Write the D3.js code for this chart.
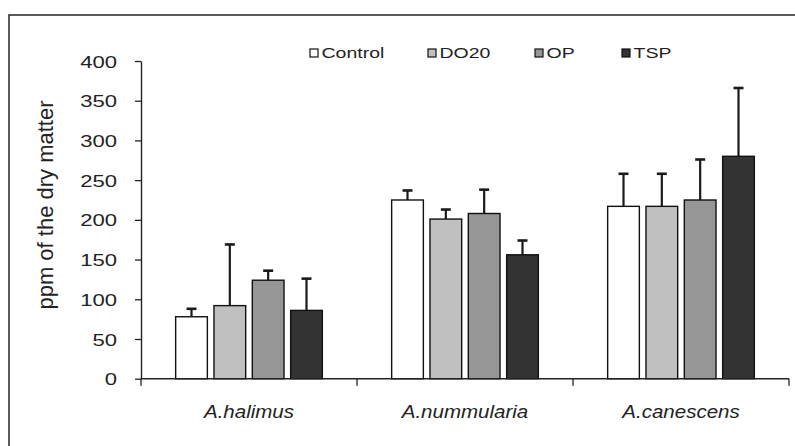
<!DOCTYPE html>
<html>
<head>
<meta charset="utf-8">
<script src="https://cdn.jsdelivr.net/npm/d3@7"></script>
<style>
  body { margin: 0; background: #fff; }
  svg { display: block; font-family: "Liberation Sans", Arial, sans-serif; }
</style>
</head>
<body>
<svg id="chart"></svg>
<script>
// data
const categories = ["A.halimus", "A.nummularia", "A.canescens"];
const series = ["Control", "DO20", "OP", "TSP"];
const seriesColors = ["#ffffff", "#c0c0c0", "#969696", "#333333"];
const means = [
  [78, 92, 124, 86],     // A.halimus
  [225, 201, 208, 156],  // A.nummularia
  [217, 217, 225, 280]   // A.canescens
];
const errors = [
  [10, 77, 12, 40],
  [12, 12, 30, 18],
  [41, 41, 51, 86]
];
const yTicks = [0, 50, 100, 150, 200, 250, 300, 350, 400];

const W = 795, H = 446;
const svg = d3.select("#chart").attr("width", W).attr("height", H);

// outer frame (runs off the right and bottom edges)
svg.append("rect")
  .attr("x", 9).attr("y", 15)
  .attr("width", W).attr("height", H)
  .attr("fill", "none")
  .attr("stroke", "#333")
  .attr("stroke-width", 1.6);

const plotL = 141, plotR = 789, plotT = 61, plotB = 378.7;

const x0 = d3.scaleBand().domain(categories).range([plotL, plotR]);
const x1 = d3.scaleBand().domain(series).range([0, x0.bandwidth()])
  .paddingInner(0.173).paddingOuter(0.904);
const y = d3.scaleLinear().domain([0, 400]).range([plotB, plotT]);
const color = d3.scaleOrdinal().domain(series).range(seriesColors);

// rows for the bars
const rows = [];
categories.forEach((c, i) => {
  series.forEach((s, j) => {
    rows.push({cat: c, ser: s, v: means[i][j], e: errors[i][j]});
  });
});

// error bars (drawn first so bar outline sits on top)
const eb = svg.append("g").attr("stroke", "#1a1a1a").attr("stroke-width", 2.2);
rows.forEach(d => {
  const cx = x0(d.cat) + x1(d.ser) + x1.bandwidth() / 2;
  eb.append("line")
    .attr("x1", cx).attr("x2", cx)
    .attr("y1", y(d.v)).attr("y2", y(d.v + d.e));
  eb.append("line")
    .attr("x1", cx - 5).attr("x2", cx + 5)
    .attr("y1", y(d.v + d.e)).attr("y2", y(d.v + d.e))
    .attr("stroke-width", 2.6);
});

svg.append("g").selectAll("rect")
  .data(rows)
  .join("rect")
  .attr("x", d => x0(d.cat) + x1(d.ser))
  .attr("y", d => y(d.v))
  .attr("width", x1.bandwidth())
  .attr("height", d => y(0) - y(d.v))
  .attr("fill", d => color(d.ser))
  .attr("stroke", "#111")
  .attr("stroke-width", 1.4);

// y axis
const yAxis = svg.append("g")
  .attr("transform", `translate(${plotL},0)`)
  .call(d3.axisLeft(y).tickValues(yTicks).tickSize(6).tickSizeOuter(0));
yAxis.select(".domain").attr("stroke", "#222").attr("stroke-width", 1.4);
yAxis.selectAll(".tick line").attr("stroke", "#222").attr("stroke-width", 1.3);
yAxis.selectAll(".tick text")
  .attr("font-size", 17)
  .attr("fill", "#222")
  .attr("x", -24 / 1.3)
  .attr("dy", "0.36em")
  .attr("transform", "scale(1.3,1)");

// x axis: ticks at group boundaries, labels at group centres
const xAxisG = svg.append("g").attr("transform", `translate(0,${plotB})`);
xAxisG.append("line")
  .attr("x1", plotL).attr("x2", plotR)
  .attr("stroke", "#222").attr("stroke-width", 1.4);
const bounds = categories.map(c => x0(c)).concat([plotR]);
xAxisG.selectAll(".xt").data(bounds).join("line")
  .attr("class", "xt")
  .attr("x1", d => d).attr("x2", d => d)
  .attr("y1", 0).attr("y2", 7)
  .attr("stroke", "#222").attr("stroke-width", 1.3);
xAxisG.selectAll(".xl").data(categories).join("text")
  .attr("class", "xl")
  .attr("x", d => (x0(d) + x0.bandwidth() / 2) / 1.14)
  .attr("y", 39.5)
  .attr("transform", "scale(1.14,1)")
  .attr("text-anchor", "middle")
  .attr("font-size", 18)
  .attr("font-style", "italic")
  .attr("fill", "#222")
  .text(d => d);

// y axis title
svg.append("text")
  .attr("transform", "translate(53,205) rotate(-90)")
  .attr("text-anchor", "middle")
  .attr("font-size", 22)
  .attr("fill", "#222")
  .text("ppm of the dry matter");

// legend
const legendX = [310, 428, 535, 622];
const legend = svg.append("g");
series.forEach((s, i) => {
  legend.append("rect")
    .attr("x", legendX[i]).attr("y", 49)
    .attr("width", 8).attr("height", 8)
    .attr("fill", color(s))
    .attr("stroke", "#111").attr("stroke-width", 1.2);
  legend.append("text")
    .attr("x", (legendX[i] + 11.5) / 1.3)
    .attr("y", 58.3)
    .attr("transform", "scale(1.3,1)")
    .attr("font-size", 15)
    .attr("fill", "#222")
    .text(s);
});
</script>
</body>
</html>
